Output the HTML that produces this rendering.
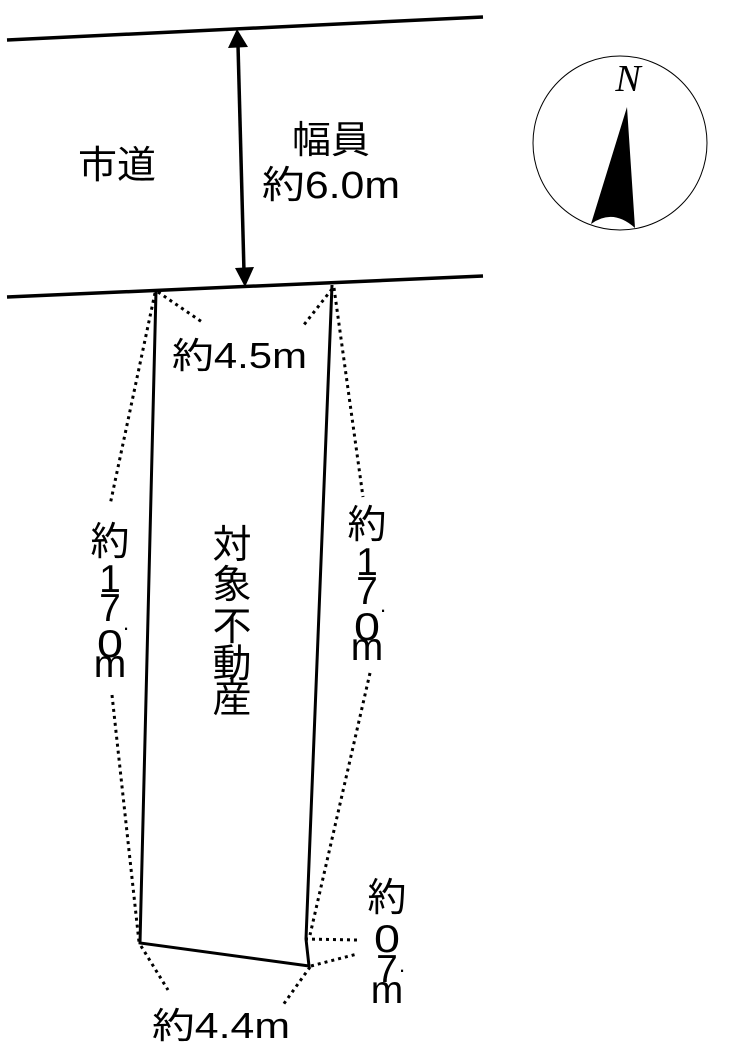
<!DOCTYPE html>
<html><head><meta charset="utf-8"><style>
html,body{margin:0;padding:0;background:#fff;}
svg{display:block;}
text{font-family:"Liberation Sans","Noto Sans CJK JP",sans-serif;fill:#000;}
</style></head><body>
<svg width="731" height="1056" viewBox="0 0 731 1056" xmlns="http://www.w3.org/2000/svg">
<g stroke="#000" stroke-width="3.5" fill="none">
<line x1="7" y1="40" x2="483" y2="17"/>
<line x1="7" y1="297" x2="483" y2="276"/>
<line x1="238" y1="45" x2="244" y2="272"/>
<polyline points="156,291 140,943 309,966 306,939 332,285" stroke-width="3"/>
</g>
<polygon points="237,29 228,48 248,47" fill="#000"/>
<polygon points="245,287 235,268 254,267" fill="#000"/>
<g stroke="#000" stroke-width="3" stroke-dasharray="3,4" fill="none">
<line x1="155" y1="293" x2="110" y2="505"/>
<line x1="112" y1="695" x2="139" y2="942"/>
<line x1="334" y1="288" x2="363" y2="497"/>
<line x1="370" y1="673" x2="310" y2="935"/>
<line x1="158" y1="292" x2="202" y2="322"/>
<line x1="332" y1="289" x2="303" y2="326"/>
<line x1="141" y1="946" x2="168" y2="990"/>
<line x1="310" y1="967" x2="283" y2="1005"/>
<line x1="305" y1="939" x2="357" y2="940"/>
<line x1="311" y1="966" x2="357" y2="954"/>
</g>
<text x="78" y="178" font-size="38" textLength="78" lengthAdjust="spacingAndGlyphs">市道</text>
<text x="292" y="153" font-size="38" textLength="78" lengthAdjust="spacingAndGlyphs">幅員</text>
<text x="262" y="198" font-size="38" textLength="138" lengthAdjust="spacingAndGlyphs">約6.0m</text>
<text x="172" y="368" font-size="36" textLength="135" lengthAdjust="spacingAndGlyphs">約4.5m</text>
<text x="152" y="1038" font-size="36" textLength="138" lengthAdjust="spacingAndGlyphs">約4.4m</text>
<g font-size="39" text-anchor="middle">
<text x="110" y="555">約</text>
<text x="110" y="592">1</text>
<text x="110" y="621">7</text>
<text x="97" y="657" text-anchor="start" textLength="26" lengthAdjust="spacingAndGlyphs">0</text>
<text x="110" y="677">m</text>
<text x="126" y="630" font-size="22">.</text>
<text x="367" y="538">約</text>
<text x="367" y="575">1</text>
<text x="367" y="604">7</text>
<text x="354" y="640" text-anchor="start" textLength="26" lengthAdjust="spacingAndGlyphs">0</text>
<text x="367" y="660">m</text>
<text x="383" y="612" font-size="22">.</text>
<text x="387" y="911">約</text>
<text x="374" y="952" text-anchor="start" textLength="26" lengthAdjust="spacingAndGlyphs">0</text>
<text x="387" y="982">7</text>
<text x="387" y="1003">m</text>
<text x="402" y="972" font-size="22">.</text>
<text x="232" y="558">対</text>
<text x="232" y="598">象</text>
<text x="232" y="640">不</text>
<text x="232" y="677">動</text>
<text x="232" y="712">産</text>
</g>
<circle cx="620" cy="143" r="87" fill="none" stroke="#000" stroke-width="1"/>
<path d="M627,107 L591,224 Q613,208 635,228 Z" fill="#000"/>
<text x="628" y="91" font-size="38" font-style="italic" text-anchor="middle" style="font-family:'Liberation Serif',serif">N</text>
</svg>
</body></html>
